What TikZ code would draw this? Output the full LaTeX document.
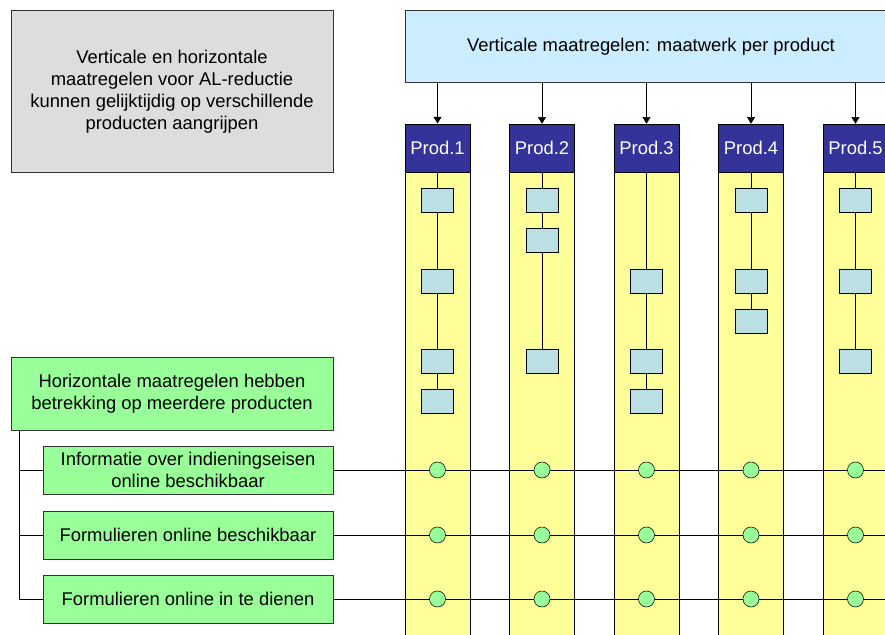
\documentclass[tikz,border=0pt]{standalone}
\usepackage{fontspec}
\setmainfont{Liberation Sans}
\usetikzlibrary{arrows.meta}
\definecolor{navyhead}{HTML}{333399}
\definecolor{colyellow}{HTML}{FFFF99}
\definecolor{topblue}{HTML}{CCECFF}
\definecolor{boxgray}{HTML}{DDDDDD}
\definecolor{hgreen}{HTML}{99FF99}
\definecolor{stepblue}{HTML}{BBE0E3}
\pgfdeclarelayer{back}
\pgfdeclarelayer{mid}
\pgfsetlayers{back,mid,main}
\begin{document}
\begin{tikzpicture}[x=0.75pt,y=-0.75pt,
  font=\fontsize{13.8}{16.5}\selectfont,
  line width=0.75pt,
  textbox/.style={draw=black!80, line width=0.75pt, align=center, inner sep=0pt},
  prodhead/.style={draw=black, fill=navyhead, text=white, minimum width=48.75pt, minimum height=36pt, inner sep=0pt},
  prodbody/.style={draw=black, fill=colyellow, minimum width=48.75pt, minimum height=351pt, inner sep=0pt},
  stepbox/.style={draw=black, fill=stepblue, minimum width=24pt, minimum height=18pt, inner sep=0pt},
  dot/.style={circle, draw=black, fill=hgreen, minimum size=12pt, inner sep=0pt},
  arr/.style={-{Triangle[width=6pt,length=5pt]}},
]
\useasboundingbox (0,0) rectangle (885,635);
\clip (0,0) rectangle (885,635);

% top-left note
\node[textbox, fill=boxgray, minimum width=241.5pt, minimum height=120.75pt] (note) at (172,91.5)
  {Verticale en horizontale\\maatregelen voor AL-reductie\\kunnen gelijktijdig op verschillende\\producten aangrijpen};

% vertical measures box
\node[textbox, fill=topblue, minimum width=369pt, minimum height=54pt] (top) at (651,47)
  {Verticale maatregelen: maatwerk per product};

% product columns
\foreach \i/\x in {1/437.5,2/542,3/646.5,4/751,5/855.5} {
  \node[prodhead] (h\i) at (\x,148) {Prod.\i};
  \begin{pgfonlayer}{back}
    \node[prodbody] (y\i) at (\x,406) {};
  \end{pgfonlayer}
  \draw[arr] (top.south -| h\i) -- (h\i.north);
}

% steps in each column
\foreach \i/\rows/\last in {1/{200,281,361,401}/401, 2/{200,240,361}/361, 3/{281,361,401}/401, 4/{200,281,321}/321, 5/{200,281,361}/361} {
  \foreach \r in \rows {
    \node[stepbox] (b\i-\r) at (h\i.center |- 0,\r) {};
  }
  \begin{pgfonlayer}{mid}
    \draw (h\i.south) -- (b\i-\last.north);
  \end{pgfonlayer}
}

% horizontal measures
\node[textbox, fill=hgreen, minimum width=241.5pt, minimum height=54.75pt] (hor) at (172,393.5)
  {Horizontale maatregelen hebben\\betrekking op meerdere producten};
\node[textbox, fill=hgreen, minimum width=217.5pt, minimum height=36pt] (s1) at (188,470)
  {Informatie over indieningseisen\\online beschikbaar};
\node[textbox, fill=hgreen, minimum width=217.5pt, minimum height=36pt] (s2) at (188,535)
  {Formulieren online beschikbaar};
\node[textbox, fill=hgreen, minimum width=217.5pt, minimum height=36pt] (s3) at (188,599)
  {Formulieren online in te dienen};

\coordinate (br) at (19,430);
\coordinate (rightend) at (895,0);
\draw (br) -- (br |- s3.west) -- (s3.west);
\draw (br |- s1.west) -- (s1.west);
\draw (br |- s2.west) -- (s2.west);

\foreach \j in {1,2,3} {
  \begin{pgfonlayer}{mid}
    \draw (s\j.east) -- (s\j.east -| rightend);
  \end{pgfonlayer}
  \foreach \i in {1,...,5} {
    \node[dot] (d\i-\j) at (h\i.center |- s\j.east) {};
  }
}
\end{tikzpicture}
\end{document}
